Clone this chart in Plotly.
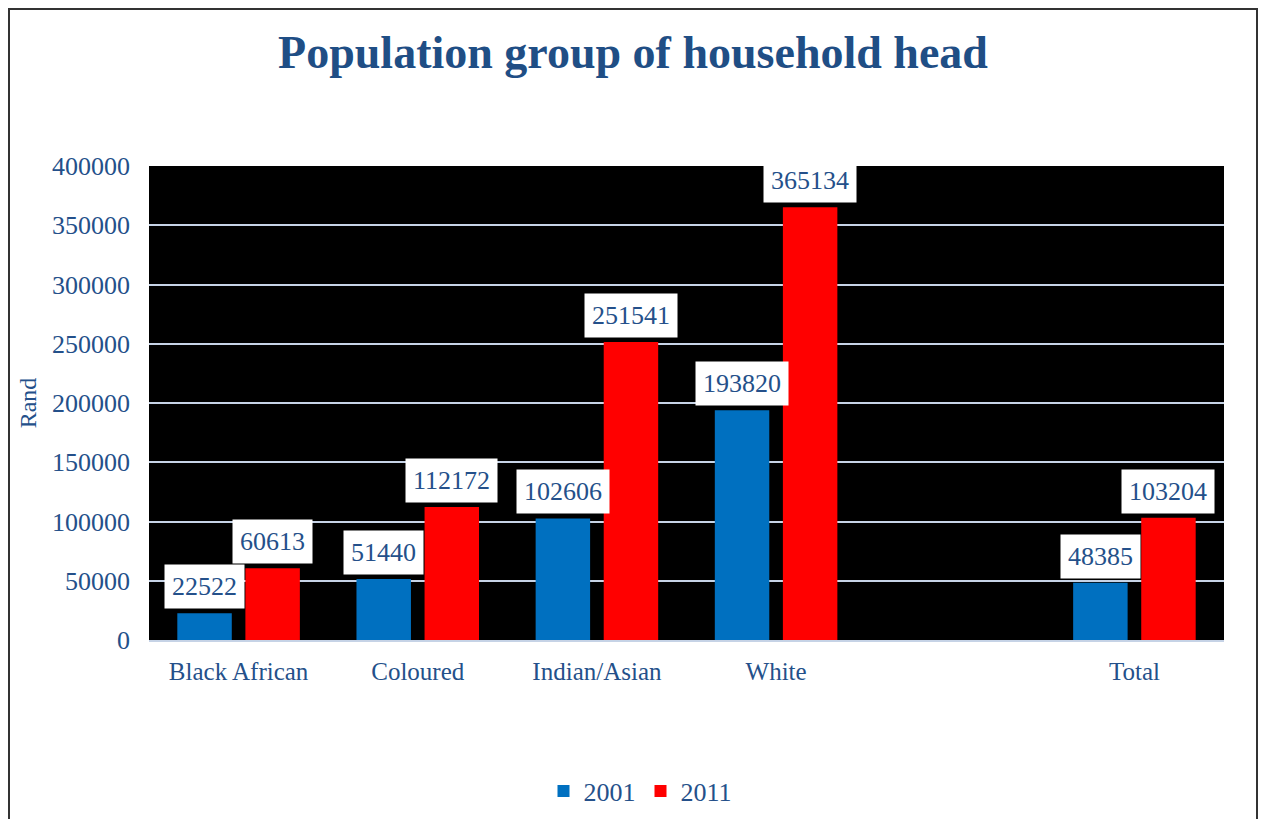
import plotly.graph_objects as go

categories = ["Black African", "Coloured", "Indian/Asian", "White", " ", "Total"]
values_2001 = [22522, 51440, 102606, 193820, None, 48385]
values_2011 = [60613, 112172, 251541, 365134, None, 103204]
series_names = ["2001", "2011"]
tick_vals = [0, 50000, 100000, 150000, 200000, 250000, 300000, 350000, 400000]

FONT = "Liberation Serif"
TXT = "#24508A"
colors = ["#0070C0", "#FF0000"]

W, H = 1250, 811
L, R, T, B = 141, 34, 158, 179
PW, PH = W - L - R, H - T - B

fig = go.Figure()
for name, vals, col in zip(series_names, [values_2001, values_2011], colors):
    fig.add_trace(go.Bar(x=categories, y=vals, name=name, marker_color=col,
                         marker_line_width=0))

annotations = []
for vals, shift in [(values_2001, -34), (values_2011, 34)]:
    for c, v in zip(categories, vals):
        if v is None:
            continue
        annotations.append(dict(
            x=c, y=v, xref="x", yref="y", text=str(v), showarrow=False,
            xshift=shift, yshift=4, yanchor="bottom",
            bgcolor="white", borderpad=7,
            font=dict(family=FONT, size=26, color=TXT)))

# outer frame (left, top, right edges)
fx0, fx1 = -(L - 1) / PW, 1 + (R - 1) / PW
fy0, fy1 = -(B + 20) / PH, 1 + (T - 1) / PH
frame = dict(type="path", xref="paper", yref="paper",
             path=f"M {fx0} {fy0} L {fx0} {fy1} L {fx1} {fy1} L {fx1} {fy0}",
             line=dict(color="#333333", width=2))

fig.update_layout(
    width=W, height=H,
    paper_bgcolor="white", plot_bgcolor="black",
    margin=dict(l=L, r=R, t=T, b=B),
    title=dict(text="<b>Population group of household head</b>",
               x=0.5, xanchor="center", xref="container",
               y=1 - 44 / H, yanchor="middle",
               font=dict(family=FONT, size=46, color="#1F4E85")),
    barmode="group", bargap=0.24, bargroupgap=0.2,
    font=dict(family=FONT, size=26, color=TXT),
    legend=dict(orientation="h", x=0.506, xanchor="center", xref="container",
                y=(811 - 783) / H, yanchor="middle", yref="container",
                font=dict(family=FONT, size=26, color=TXT),
                traceorder="normal"),
    annotations=annotations,
    shapes=[frame],
)
fig.update_xaxes(showgrid=False, tickfont=dict(family=FONT, size=25, color=TXT),
                 ticks="", showline=True, linecolor="#C6D3E6", linewidth=2,
                 ticklabelstandoff=8)
fig.update_yaxes(range=[0, 400000], tickvals=tick_vals, ticktext=[str(t) for t in tick_vals],
                 showgrid=True, gridcolor="#C6D3E6", gridwidth=2, zeroline=False,
                 tickfont=dict(family=FONT, size=26, color=TXT), ticklabelstandoff=18,
                 title=dict(text="Rand", font=dict(family=FONT, size=24, color=TXT), standoff=8))

fig.write_html("out.html")
